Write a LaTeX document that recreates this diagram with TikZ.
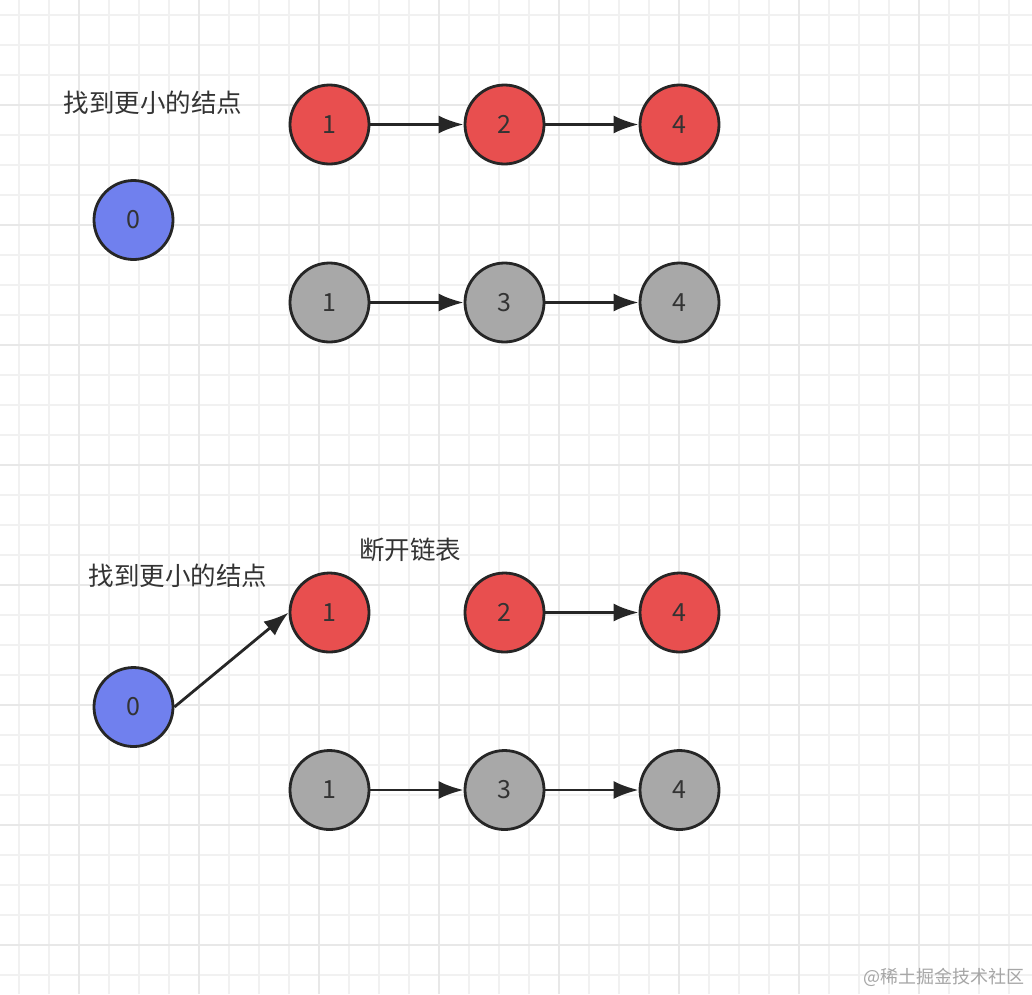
\documentclass[tikz,border=0pt]{standalone}
\usepackage{fontspec}
\newfontfamily\cjk{Noto Sans CJK SC}
\usetikzlibrary{arrows.meta}
\definecolor{gridminor}{HTML}{F1F1F1}
\definecolor{gridmajor}{HTML}{E8E8E8}
\definecolor{nred}{HTML}{E84F4F}
\definecolor{nblue}{HTML}{7080EE}
\definecolor{ngrey}{HTML}{A8A8A8}
\definecolor{nborder}{HTML}{262626}
\definecolor{txt}{HTML}{333333}
\definecolor{wm}{HTML}{A6A6A6}
\tikzset{
  listnode/.style={circle, draw=nborder, line width=2.8pt, minimum size=79pt, inner sep=0pt,
    font=\cjk\fontsize{25}{25}\selectfont, text=txt},
  rednode/.style={listnode, fill=nred},
  bluenode/.style={listnode, fill=nblue},
  greynode/.style={listnode, fill=ngrey},
  link/.style={draw=nborder, line width=2.8pt, -{Latex[length=25pt,width=18pt]}},
  caption/.style={font=\cjk\fontsize{25.5}{25.5}\selectfont, text=txt, inner sep=0pt},
  watermark/.style={font=\cjk\fontsize{18}{18}\selectfont, text=wm, inner sep=0pt}
}
\begin{document}
\begin{tikzpicture}[x=1pt,y=-1pt]
\fill[white] (0,0) rectangle (1032,994);
\useasboundingbox (0,0) rectangle (1032,994);
% grid
\foreach \x in {19,49,...,1009} \draw[gridminor, line width=1.2pt] (\x,0) -- (\x,994);
\foreach \y in {15,45,...,975} \draw[gridminor, line width=1.2pt] (0,\y) -- (1032,\y);
\foreach \x in {79,199,...,919} \draw[gridmajor, line width=1.5pt] (\x,0) -- (\x,994);
\foreach \y in {105,225,...,945} \draw[gridmajor, line width=1.5pt] (0,\y) -- (1032,\y);

% top diagram
\node[caption] (t1) at (153,103) {找到更小的结点};
\node[bluenode] (a0) at (133.5,220) {0};
\node[rednode] (a1) at (329.5,124.5) {1};
\node[rednode] (a2) at (504.5,124.5) {2};
\node[rednode] (a4) at (679.5,124.5) {4};
\node[greynode] (b1) at (329.5,302.5) {1};
\node[greynode] (b3) at (504.5,302.5) {3};
\node[greynode] (b4) at (679.5,302.5) {4};
\draw[link] (a1) -- (a2);
\draw[link] (a2) -- (a4);
\draw[link] (b1) -- (b3);
\draw[link] (b3) -- (b4);

% bottom diagram
\node[caption] (t2) at (178,576) {找到更小的结点};
\node[caption] (t3) at (410,550) {断开链表};
\node[bluenode] (c0) at (133.5,707) {0};
\node[rednode] (c1) at (329.5,612.5) {1};
\node[rednode] (c2) at (504.5,612.5) {2};
\node[rednode] (c4) at (679.5,612.5) {4};
\node[greynode] (d1) at (329.5,790) {1};
\node[greynode] (d3) at (504.5,790) {3};
\node[greynode] (d4) at (679.5,790) {4};
\draw[link] (c0.east) -- (c1.west);
\draw[link] (c2) -- (c4);
\draw[link] (d1) -- (d3);
\draw[link] (d3) -- (d4);

% watermark
\node[watermark, anchor=east] (wmk) at (1025,977) {@稀土掘金技术社区};
\end{tikzpicture}
\end{document}
